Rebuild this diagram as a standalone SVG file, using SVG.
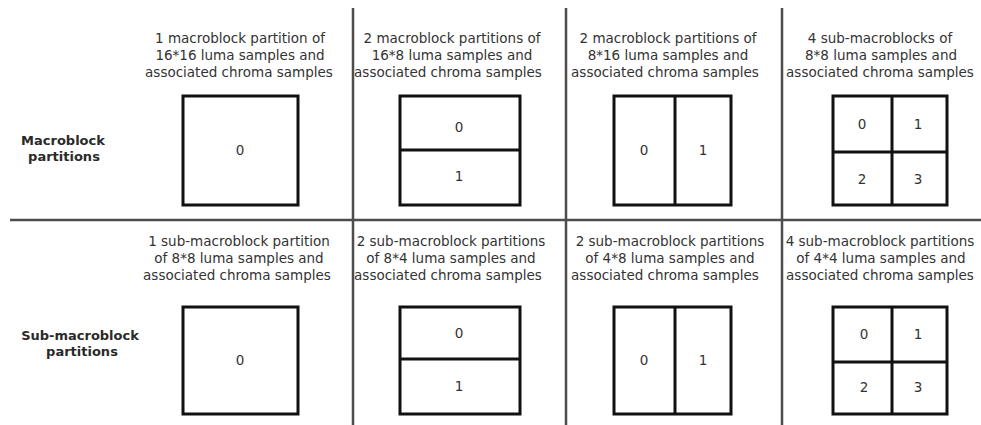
<svg xmlns="http://www.w3.org/2000/svg" width="981" height="425" viewBox="0 0 981 425">
  <style>
    .grid { stroke: #4d4d4d; stroke-width: 2.5; fill: none; }
    .blk { stroke: #111; stroke-width: 3; fill: #fff; }
    .div { stroke: #111; stroke-width: 3; fill: none; }
    .cap { font-family: "DejaVu Sans", "Liberation Sans", sans-serif; font-size: 13.5px; fill: #333; text-anchor: middle; }
    .row { font-family: "DejaVu Sans", "Liberation Sans", sans-serif; font-size: 13px; font-weight: bold; fill: #2a2a2a; text-anchor: middle; }
    .num { font-family: "DejaVu Sans", "Liberation Sans", sans-serif; font-size: 13.5px; fill: #333; text-anchor: middle; }
  </style>
  <rect width="981" height="425" fill="#fff"/>

  <!-- table rules -->
  <g id="grid">
    <line class="grid" x1="353" y1="8" x2="353" y2="425"/>
    <line class="grid" x1="566" y1="8" x2="566" y2="425"/>
    <line class="grid" x1="782" y1="8" x2="782" y2="425"/>
    <line class="grid" x1="10" y1="220" x2="981" y2="220"/>
  </g>

  <!-- row headings -->
  <g id="label-mb">
    <text class="row" x="63" y="145">Macroblock</text>
    <text class="row" x="64" y="161">partitions</text>
  </g>
  <g id="label-smb">
    <text class="row" x="80" y="340">Sub-macroblock</text>
    <text class="row" x="82" y="356">partitions</text>
  </g>

  <!-- macroblock row -->
  <g id="mb-16x16">
    <text class="cap" x="240" y="43">1 macroblock partition of</text>
    <text class="cap" x="240" y="60">16*16 luma samples and</text>
    <text class="cap" x="239" y="77">associated chroma samples</text>
    <rect class="blk" x="183" y="96" width="115" height="109"/>
    <text class="num" x="240" y="155">0</text>
  </g>
  <g id="mb-16x8">
    <text class="cap" x="452" y="43">2 macroblock partitions of</text>
    <text class="cap" x="452" y="60">16*8 luma samples and</text>
    <text class="cap" x="448" y="77">associated chroma samples</text>
    <rect class="blk" x="400" y="96" width="120" height="109"/>
    <line class="div" x1="400" y1="150" x2="520" y2="150"/>
    <text class="num" x="459" y="132">0</text>
    <text class="num" x="459" y="181">1</text>
  </g>
  <g id="mb-8x16">
    <text class="cap" x="668" y="43">2 macroblock partitions of</text>
    <text class="cap" x="668" y="60">8*16 luma samples and</text>
    <text class="cap" x="665" y="77">associated chroma samples</text>
    <rect class="blk" x="614" y="96" width="117" height="109"/>
    <line class="div" x1="675" y1="96" x2="675" y2="205"/>
    <text class="num" x="644" y="155">0</text>
    <text class="num" x="703" y="155">1</text>
  </g>
  <g id="mb-8x8">
    <text class="cap" x="880" y="43">4 sub-macroblocks of</text>
    <text class="cap" x="881" y="60">8*8 luma samples and</text>
    <text class="cap" x="880" y="77">associated chroma samples</text>
    <rect class="blk" x="833" y="96" width="114" height="109"/>
    <line class="div" x1="892" y1="96" x2="892" y2="205"/>
    <line class="div" x1="833" y1="152" x2="947" y2="152"/>
    <text class="num" x="862" y="129">0</text>
    <text class="num" x="918" y="129">1</text>
    <text class="num" x="862" y="184">2</text>
    <text class="num" x="918" y="184">3</text>
  </g>

  <!-- sub-macroblock row -->
  <g id="smb-8x8">
    <text class="cap" x="239" y="246">1 sub-macroblock partition</text>
    <text class="cap" x="239" y="263">of 8*8 luma samples and</text>
    <text class="cap" x="237" y="280">associated chroma samples</text>
    <rect class="blk" x="183" y="307" width="115" height="107"/>
    <text class="num" x="240" y="365">0</text>
  </g>
  <g id="smb-8x4">
    <text class="cap" x="451" y="246">2 sub-macroblock partitions</text>
    <text class="cap" x="451" y="263">of 8*4 luma samples and</text>
    <text class="cap" x="448" y="280">associated chroma samples</text>
    <rect class="blk" x="400" y="307" width="120" height="107"/>
    <line class="div" x1="400" y1="359" x2="520" y2="359"/>
    <text class="num" x="459" y="338">0</text>
    <text class="num" x="459" y="391">1</text>
  </g>
  <g id="smb-4x8">
    <text class="cap" x="670" y="246">2 sub-macroblock partitions</text>
    <text class="cap" x="670" y="263">of 4*8 luma samples and</text>
    <text class="cap" x="665" y="280">associated chroma samples</text>
    <rect class="blk" x="614" y="307" width="117" height="107"/>
    <line class="div" x1="675" y1="307" x2="675" y2="414"/>
    <text class="num" x="644" y="365">0</text>
    <text class="num" x="703" y="365">1</text>
  </g>
  <g id="smb-4x4">
    <text class="cap" x="880" y="246">4 sub-macroblock partitions</text>
    <text class="cap" x="881" y="263">of 4*4 luma samples and</text>
    <text class="cap" x="880" y="280">associated chroma samples</text>
    <rect class="blk" x="833" y="307" width="114" height="107"/>
    <line class="div" x1="892" y1="307" x2="892" y2="414"/>
    <line class="div" x1="833" y1="362" x2="947" y2="362"/>
    <text class="num" x="864" y="339">0</text>
    <text class="num" x="918" y="339">1</text>
    <text class="num" x="864" y="392">2</text>
    <text class="num" x="918" y="392">3</text>
  </g>
</svg>
